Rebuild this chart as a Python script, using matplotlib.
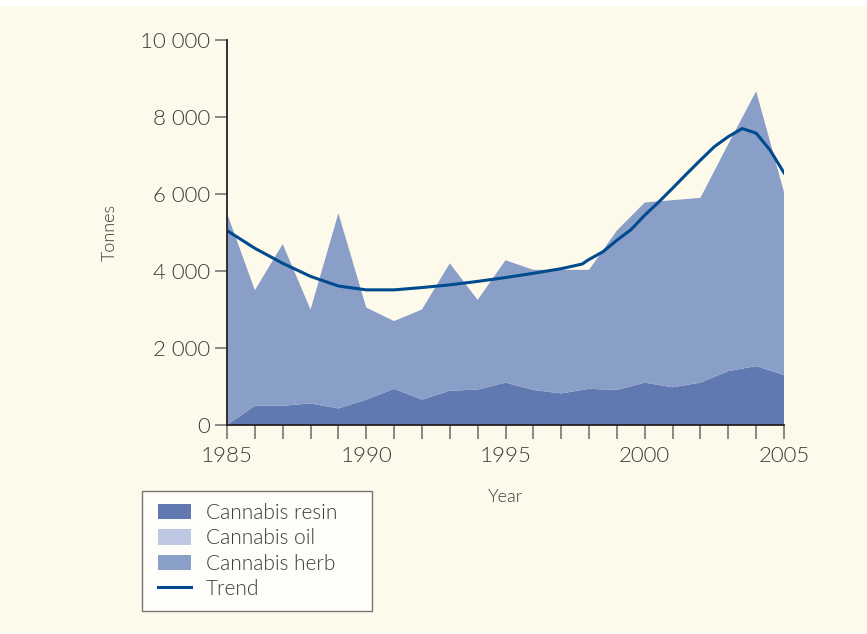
import matplotlib
matplotlib.use("Agg")
import matplotlib.pyplot as plt
from matplotlib.patches import Rectangle, Patch
from matplotlib.lines import Line2D
from matplotlib.legend_handler import HandlerPatch, HandlerLine2D
from matplotlib.ticker import FuncFormatter

years = list(range(1985, 2006))
resin = [0, 500, 500, 560, 430, 660, 940, 660, 890, 920, 1100, 910, 820, 940, 910, 1100, 980, 1100, 1400, 1530, 1300]
oil = [0] * 21
herb = [5500, 3000, 4200, 2440, 5070, 2390, 1760, 2340, 3310, 2330, 3180, 3120, 3210, 3090, 4140, 4680, 4860, 4800, 5900, 7140, 4750]

trend_years = [1985, 1986, 1987, 1988, 1989, 1990, 1991, 1992, 1993, 1994, 1995, 1996, 1997, 1997.75,
               1998, 1998.5, 1999, 1999.5, 2000, 2000.5, 2001, 2001.5, 2002, 2002.5, 2003, 2003.5, 2004, 2004.5, 2005]
trend = [5050, 4590, 4200, 3860, 3610, 3510, 3510, 3570, 3640, 3730, 3830, 3940, 4060, 4180,
         4300, 4500, 4800, 5070, 5450, 5790, 6150, 6520, 6880, 7230, 7490, 7700, 7580, 7140, 6550]

labels = ["Cannabis resin", "Cannabis oil", "Cannabis herb", "Trend"]
c_resin, c_oil, c_herb, c_trend = "#6079b0", "#bec8e2", "#8a9fc8", "#004a8f"
cream = "#fdf9eb"
txt = "#3a3a3a"
W = 300

plt.rcParams['font.family'] = ['Lato', 'DejaVu Sans']
plt.rcParams['font.weight'] = W

fig = plt.figure(figsize=(8.67, 6.34), dpi=100, facecolor="white")
fig.patches.append(Rectangle((0, 1 - 633 / 634), 1, (633 - 6) / 634, transform=fig.transFigure,
                             facecolor=cream, edgecolor="none", zorder=-10))

ax = fig.add_axes([227 / 867, 1 - 425 / 634, (784 - 227) / 867, (425 - 40) / 634])
ax.patch.set_alpha(0)

ax.stackplot(years, resin, oil, herb, colors=[c_resin, c_oil, c_herb], linewidth=0)
ax.plot(trend_years, trend, color=c_trend, linewidth=2.2, solid_joinstyle="round")

ax.set_xlim(1985, 2005)
ax.set_ylim(0, 10000)
ax.set_xticks(years)
ax.set_xticklabels([str(y) if y % 5 == 0 else "" for y in years])
ax.set_yticks(range(0, 10001, 2000))
ax.yaxis.set_major_formatter(FuncFormatter(lambda v, p: f"{int(v):,}".replace(",", " ")))

for s in ["top", "right"]:
    ax.spines[s].set_visible(False)
for s in ["left", "bottom"]:
    ax.spines[s].set_color("#222222")
    ax.spines[s].set_linewidth(1.3)

ax.tick_params(axis="y", direction="out", length=9, width=1.3, color="#808080",
               labelsize=16, labelcolor=txt, pad=3)
ax.tick_params(axis="x", direction="out", length=10, width=1.3, color="#808080",
               labelsize=16, labelcolor=txt, pad=5)
for lab in ax.get_xticklabels() + ax.get_yticklabels():
    lab.set_fontweight(W)

ax.set_ylabel("Tonnes", fontsize=13, color=txt, labelpad=16, fontweight=W)
ax.set_xlabel("Year", fontsize=13, color=txt, labelpad=17, fontweight=W)

handles = [Patch(facecolor=c_resin, edgecolor="none"),
           Patch(facecolor=c_oil, edgecolor="none"),
           Patch(facecolor=c_herb, edgecolor="none"),
           Line2D([], [], color=c_trend, linewidth=2.2)]
leg_w = (372 - 142) / 867
leg = fig.legend(handles, labels, loc="upper left",
                 bbox_to_anchor=(142 / 867, 1 - 491 / 634 - 0.1, leg_w, 0.1), mode="expand",
                 bbox_transform=fig.transFigure, borderaxespad=0, frameon=True, fancybox=False,
                 labelcolor=txt, handlelength=1.75, handleheight=0.75,
                 handletextpad=0.72, labelspacing=0.25, borderpad=0.58,
                 prop={"size": 15, "weight": W},
                 handler_map={Patch: HandlerPatch(xpad=0.2), Line2D: HandlerLine2D(xpad=0.2)})
leg.get_frame().set_edgecolor("#555555")
leg.get_frame().set_linewidth(1.0)
leg.get_frame().set_facecolor("white")

fig.savefig("out.png", dpi=100, facecolor=fig.get_facecolor())
